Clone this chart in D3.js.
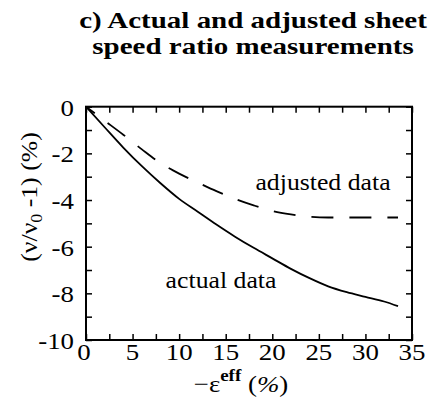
<!DOCTYPE html>
<html>
<head>
<meta charset="utf-8">
<script src="https://cdn.jsdelivr.net/npm/d3@7"></script>
<style>
  html, body { margin: 0; padding: 0; background: #fff; }
  svg { display: block; }
  text { font-family: "Liberation Serif", "Times New Roman", serif; fill: #000; }
</style>
</head>
<body>
<svg id="chart" width="433" height="413"></svg>
<script>
// Strain (x) and sheet speed ratio change (y), both in percent
const strain = [0, 2, 4, 6, 8, 10, 12, 14, 16, 18, 20, 22, 24, 26, 28, 30, 32, 33.5];
const actualData = [0, -0.88, -1.75, -2.55, -3.28, -3.95, -4.5, -5.05, -5.57, -6.05, -6.5, -6.95, -7.35, -7.7, -7.95, -8.15, -8.35, -8.55];
const adjustedData = [0, -0.6, -1.2, -1.83, -2.42, -2.87, -3.25, -3.62, -3.95, -4.23, -4.47, -4.62, -4.72, -4.75, -4.75, -4.75, -4.75, -4.75];

const xTickLabels = [0, 5, 10, 15, 20, 25, 30, 35];
const yTickLabels = [0, -2, -4, -6, -8, -10];
const titleLines = ["c) Actual and adjusted sheet", "speed ratio measurements"];

const svg = d3.select("#chart");
const plotLeft = 86, plotRight = 412, plotTop = 106.7, plotBottom = 340;
const stretch = 1.12;

const x = d3.scaleLinear().domain([0, 35]).range([plotLeft, plotRight]);
const y = d3.scaleLinear().domain([-10, 0]).range([plotBottom, plotTop]);

// Title, two centred bold lines
titleLines.forEach((t, i) => {
  svg.append("text")
    .attr("transform", `translate(253,${28 + i * 25.5}) scale(1.26,1)`)
    .attr("text-anchor", "middle")
    .attr("font-size", 23)
    .attr("font-weight", "bold")
    .text(t);
});

// Frame ticks, all pointing inward
const tickLen = 6;
const xMinor = d3.range(0, 35.01, 2.5);
const yMinor = d3.range(-10, 0.01, 1);

svg.append("g").attr("transform", `translate(0,${plotBottom})`)
  .call(d3.axisBottom(x).tickValues(xMinor).tickSize(-tickLen).tickFormat(""))
  .call(g => g.select(".domain").remove());
svg.append("g").attr("transform", `translate(0,${plotTop})`)
  .call(d3.axisTop(x).tickValues(xMinor).tickSize(-tickLen).tickFormat(""))
  .call(g => g.select(".domain").remove());
svg.append("g").attr("transform", `translate(${plotLeft},0)`)
  .call(d3.axisLeft(y).tickValues(yMinor).tickSize(-tickLen).tickFormat(""))
  .call(g => g.select(".domain").remove());
svg.append("g").attr("transform", `translate(${plotRight},0)`)
  .call(d3.axisRight(y).tickValues(yMinor).tickSize(-tickLen).tickFormat(""))
  .call(g => g.select(".domain").remove());
svg.selectAll(".tick line").attr("stroke", "#000").attr("stroke-width", 1.5);

// Frame
svg.append("rect")
  .attr("x", plotLeft).attr("y", plotTop)
  .attr("width", plotRight - plotLeft).attr("height", plotBottom - plotTop)
  .attr("fill", "none").attr("stroke", "#000").attr("stroke-width", 2);

// Tick labels
xTickLabels.forEach(v => {
  svg.append("text")
    .attr("transform", `translate(${x(v) - (v === 0 ? 2 : 0)},360) scale(${stretch},1)`)
    .attr("text-anchor", "middle")
    .attr("font-size", 24)
    .text(v);
});
yTickLabels.forEach(v => {
  svg.append("text")
    .attr("transform", `translate(${plotLeft - 12},${y(v) + 9}) scale(${stretch},1)`)
    .attr("text-anchor", "end")
    .attr("font-size", 24)
    .text(v === 0 ? "0" : "-" + Math.abs(v));
});

// Axis titles
const yTitle = svg.append("text")
  .attr("transform", `translate(37,197) rotate(-90) scale(${stretch},1)`)
  .attr("text-anchor", "middle")
  .attr("font-size", 23);
yTitle.append("tspan").text("(ν/ν");
yTitle.append("tspan").attr("font-size", 16).attr("dy", 5).text("0");
yTitle.append("tspan").attr("dy", -5).text(" -1) (%)");

const xTitle = svg.append("text")
  .attr("transform", `translate(241,392) scale(${stretch},1)`)
  .attr("text-anchor", "middle")
  .attr("font-size", 24);
xTitle.append("tspan").text("−ε");
xTitle.append("tspan").attr("font-size", 17).attr("dy", -11).attr("font-weight", "bold").text("eff");
xTitle.append("tspan").attr("dy", 11).text(" (");
xTitle.append("tspan").attr("font-style", "italic").text("%");
xTitle.append("tspan").text(")");

// Curves
const line = d3.line()
  .x(d => x(d[0]))
  .y(d => y(d[1]))
  .curve(d3.curveMonotoneX);

svg.append("path")
  .datum(strain.map((s, i) => [s, actualData[i]]))
  .attr("d", line)
  .attr("fill", "none")
  .attr("stroke", "#000")
  .attr("stroke-width", 1.8);

svg.append("path")
  .datum(strain.map((s, i) => [s, adjustedData[i]]))
  .attr("d", line)
  .attr("fill", "none")
  .attr("stroke", "#000")
  .attr("stroke-width", 1.8)
  .attr("stroke-dasharray", "22,16")
  .attr("stroke-dashoffset", 11);

// Curve annotations
svg.append("text")
  .attr("transform", `translate(323,190) scale(${stretch},1)`)
  .attr("text-anchor", "middle")
  .attr("font-size", 23)
  .text("adjusted data");
svg.append("text")
  .attr("transform", `translate(221,288) scale(${stretch},1)`)
  .attr("text-anchor", "middle")
  .attr("font-size", 23)
  .text("actual data");
</script>
</body>
</html>
